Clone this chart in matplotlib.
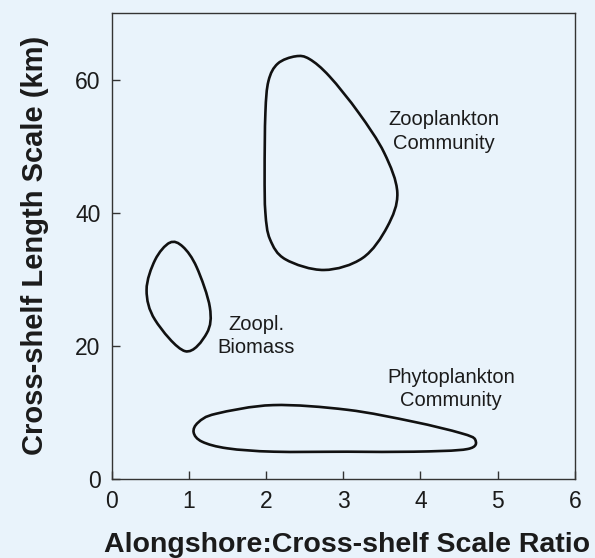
import numpy as np
import matplotlib
matplotlib.use('Agg')
import matplotlib.pyplot as plt
from matplotlib.path import Path
from matplotlib.patches import PathPatch

plt.rcParams['font.family'] = ['Liberation Sans', 'DejaVu Sans']

# Outlines (ratio, km)
zoo_comm_x = [2.38, 2.15, 2.03, 1.99, 1.98, 1.99, 2.05, 2.25, 2.75, 3.25, 3.57, 3.70, 3.53, 3.20, 2.82, 2.56]
zoo_comm_y = [63.5, 62.4, 59.8, 55.0, 46.0, 40.0, 36.0, 33.0, 31.4, 33.2, 37.9, 43.0, 49.0, 55.0, 60.5, 63.1]

zoo_bio_x = [0.75, 0.56, 0.45, 0.56, 0.95, 1.23, 1.27, 1.10, 0.92]
zoo_bio_y = [35.5, 32.9, 28.4, 23.9, 19.2, 21.9, 25.8, 31.8, 34.9]

phyto_x = [1.12, 1.35, 2.09, 3.05, 3.91, 4.52, 4.71, 4.61, 3.91, 3.05, 2.10, 1.50, 1.17, 1.06]
phyto_y = [8.5, 9.8, 11.1, 10.4, 8.6, 6.9, 5.9, 4.5, 4.1, 4.1, 4.1, 4.6, 5.6, 7.0]

labels = ['Zooplankton\nCommunity', 'Zoopl.\nBiomass', 'Phytoplankton\nCommunity']
label_x = [4.30, 1.87, 4.40]
label_y = [52.2, 21.5, 13.5]

x_ticks = [0, 1, 2, 3, 4, 5, 6]
y_ticks = [0, 20, 40, 60]

bg = '#e9f3fb'
ink = '#1b1b1b'


def closed_curve(xs, ys):
    # Catmull-Rom through the traced points, drawn as cubic Beziers
    p = np.column_stack([xs, ys])
    n = len(p)
    verts = [p[0]]
    codes = [Path.MOVETO]
    for i in range(n):
        p0, p1, p2, p3 = p[i - 1], p[i], p[(i + 1) % n], p[(i + 2) % n]
        verts += [p1 + (p2 - p0) / 6, p2 - (p3 - p1) / 6, p2]
        codes += [Path.CURVE4] * 3
    return Path(verts, codes)


fig = plt.figure(figsize=(5.95, 5.58), dpi=100, facecolor=bg)
ax = fig.add_axes([0.188, 0.1416, 0.778, 0.835], facecolor=bg)

for xs, ys in [(zoo_comm_x, zoo_comm_y), (zoo_bio_x, zoo_bio_y), (phyto_x, phyto_y)]:
    ax.add_patch(PathPatch(closed_curve(xs, ys), fill=False, lw=1.9, ec='#111111'))

for t, lx, ly in zip(labels, label_x, label_y):
    ax.text(lx, ly, t, ha='center', va='center', fontsize=14.5, color=ink,
            linespacing=1.3)

ax.set_xlim(0, 6)
ax.set_ylim(0, 70)
ax.set_xticks(x_ticks)
ax.set_yticks(y_ticks)
ax.tick_params(axis='both', direction='in', length=6, width=1, color='#333333',
               labelsize=16.5, labelcolor=ink)
ax.tick_params(axis='x', pad=8)
ax.tick_params(axis='y', pad=8)
ax.tick_params(top=False, right=False)
for s in ax.spines.values():
    s.set_color('#333333')
    s.set_linewidth(1.0)

ax.set_xlabel('Alongshore:Cross-shelf Scale Ratio', fontsize=20.5, fontweight='bold',
              color=ink, va='center')
ax.set_ylabel('Cross-shelf Length Scale (km)', fontsize=21, fontweight='bold',
              color=ink, va='center')
ax.xaxis.set_label_coords(0.508, -0.142)
ax.yaxis.set_label_coords(-0.166, 0.502)

fig.savefig('out.png', dpi=100, facecolor=bg)
